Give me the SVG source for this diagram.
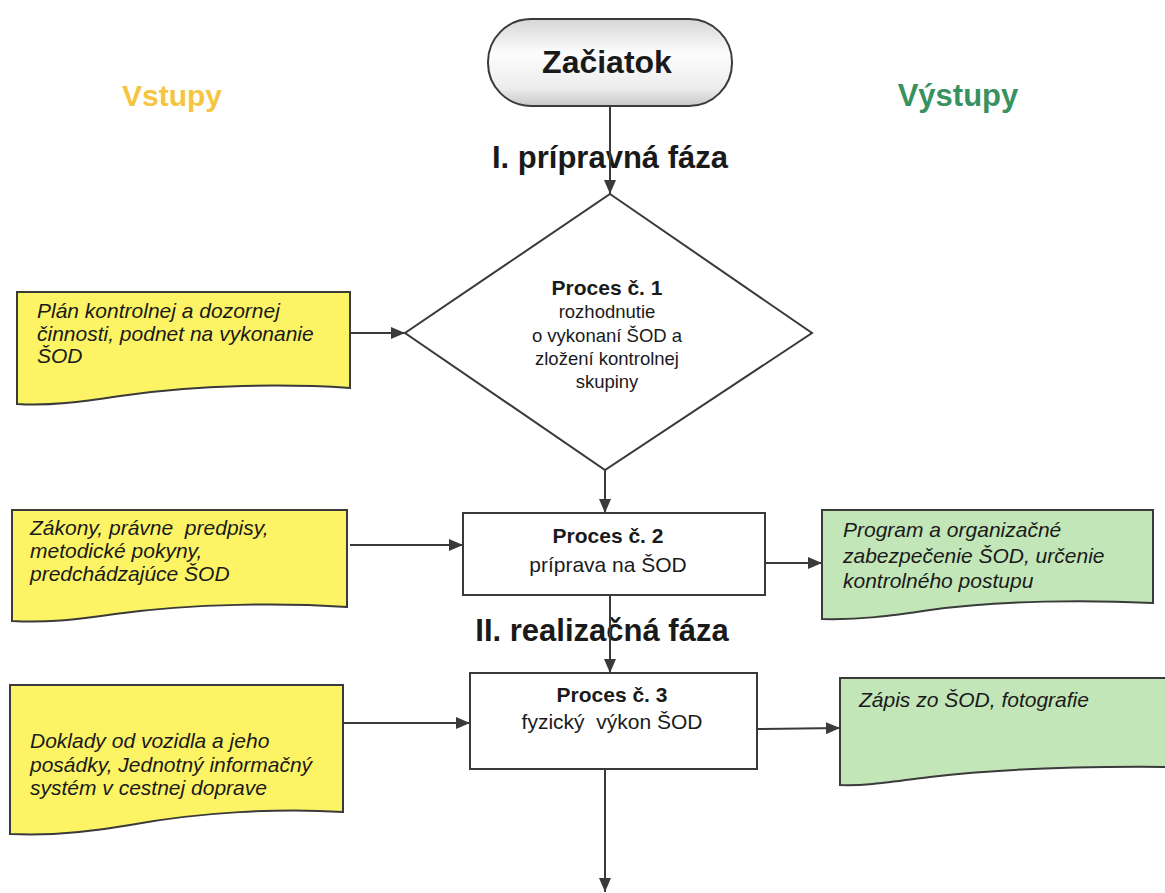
<svg xmlns="http://www.w3.org/2000/svg" width="1165" height="893" viewBox="0 0 1165 893">
<style>
.doc-y{fill:#fdf465;stroke:#3a3a3a;stroke-width:2}
.doc-g{fill:#c2e6b8;stroke:#3a3a3a;stroke-width:2}
.box{fill:#ffffff;stroke:#3a3a3a;stroke-width:2}
.it{font-family:"Liberation Sans",Arial,sans-serif;font-style:italic;font-size:21px;fill:#1a1a1a}
.bh{font-family:"Liberation Sans",Arial,sans-serif;font-weight:bold;font-size:21px;fill:#1a1a1a;text-anchor:middle}
.rt{font-family:"Liberation Sans",Arial,sans-serif;font-size:21px;fill:#1a1a1a;text-anchor:middle}
.dt{font-family:"Liberation Sans",Arial,sans-serif;font-size:18.5px;fill:#1a1a1a;text-anchor:middle}
.ph{font-family:"Liberation Sans",Arial,sans-serif;font-weight:bold;font-size:31px;fill:#1a1a1a;text-anchor:middle}
.conn{stroke:#3a3a3a;stroke-width:2;fill:none;marker-end:url(#arr)}
</style>
<defs>
<marker id="arr" viewBox="0 0 14 12" refX="14" refY="6" markerWidth="14" markerHeight="12" markerUnits="userSpaceOnUse" orient="auto">
<path d="M0,0 L14,6 L0,12 Z" fill="#3a3a3a"/>
</marker>
<linearGradient id="gstart" x1="0" y1="0" x2="0" y2="1">
<stop offset="0" stop-color="#d6d6d6"/>
<stop offset="0.4" stop-color="#fdfdfd"/>
<stop offset="0.8" stop-color="#ececec"/>
<stop offset="1" stop-color="#c8c8c8"/>
</linearGradient>
</defs>
<rect width="1165" height="893" fill="#ffffff"/>

<text x="172" y="106" font-family="Liberation Sans,Arial,sans-serif" font-weight="bold" font-size="30" fill="#f5c540" text-anchor="middle">Vstupy</text>
<text x="958" y="106" font-family="Liberation Sans,Arial,sans-serif" font-weight="bold" font-size="31" fill="#3a9160" text-anchor="middle">Výstupy</text>
<text class="ph" x="610" y="168">I. prípravná fáza</text>
<text class="ph" x="602" y="641">II. realizačná fáza</text>

<g id="start">
<rect x="488" y="19" width="244" height="87" rx="43" ry="43" fill="url(#gstart)" stroke="#3a3a3a" stroke-width="2"/>
<text x="607" y="73" font-family="Liberation Sans,Arial,sans-serif" font-weight="bold" font-size="32" fill="#1a1a1a" text-anchor="middle">Začiatok</text>
</g>

<g id="proces1">
<path d="M610,194 L812,333 L605,470 L405,333 Z" class="box"/>
<text class="bh" x="607" y="295">Proces č. 1</text>
<text class="dt" x="607" y="318">rozhodnutie</text>
<text class="dt" x="607" y="342">o vykonaní ŠOD a</text>
<text class="dt" x="607" y="365">zložení kontrolnej</text>
<text class="dt" x="607" y="388">skupiny</text>
</g>

<g id="vstup1">
<path d="M17,292 H350 V388 C290,384 200,384 120,396 C80,402 50,406 17,404 Z" class="doc-y"/>
<text class="it" x="37" y="318">Plán kontrolnej a dozornej</text>
<text class="it" x="37" y="341">činnosti, podnet na vykonanie</text>
<text class="it" x="37" y="363">ŠOD</text>
</g>

<g id="proces2">
<rect x="463" y="513" width="302" height="82" class="box"/>
<text class="bh" x="608" y="543">Proces č. 2</text>
<text class="rt" x="608" y="572">príprava na ŠOD</text>
</g>

<g id="vstup2">
<path d="M12,510 H347 V607 C285,603 195,603 115,614 C75,620 45,623 12,621 Z" class="doc-y"/>
<text class="it" x="30" y="535" xml:space="preserve">Zákony, právne  predpisy,</text>
<text class="it" x="30" y="558">metodické pokyny,</text>
<text class="it" x="30" y="581">predchádzajúce ŠOD</text>
</g>

<g id="vystup1">
<path d="M822,510 H1153 V603 C1090,600 1000,600 930,610 C890,616 860,620 822,619 Z" class="doc-g"/>
<text class="it" x="843" y="537">Program a organizačné</text>
<text class="it" x="843" y="563">zabezpečenie ŠOD, určenie</text>
<text class="it" x="843" y="588">kontrolného postupu</text>
</g>

<g id="proces3">
<rect x="470" y="673" width="287" height="96" class="box"/>
<text class="bh" x="612" y="702">Proces č. 3</text>
<text class="rt" x="612" y="729" xml:space="preserve">fyzický  výkon ŠOD</text>
</g>

<g id="vstup3">
<path d="M10,685 H343 V812 C280,808 200,812 130,825 C90,832 50,836 10,834 Z" class="doc-y"/>
<text class="it" x="30" y="748">Doklady od vozidla a jeho</text>
<text class="it" x="30" y="772">posádky, Jednotný informačný</text>
<text class="it" x="30" y="795">systém v cestnej doprave</text>
</g>

<g id="vystup2">
<path d="M840,678 H1172 V767 C1080,766 990,770 930,777 C890,782 865,786 840,785 Z" class="doc-g"/>
<text class="it" x="859" y="707">Zápis zo ŠOD, fotografie</text>
</g>

<g id="connectors">
<path class="conn" d="M610,106 V194"/>
<path class="conn" d="M350,333 H405"/>
<path class="conn" d="M605,470 V513"/>
<path class="conn" d="M350,545 H463"/>
<path class="conn" d="M765,563 H822"/>
<path class="conn" d="M610,595 V673"/>
<path class="conn" d="M343,723 H470"/>
<path class="conn" d="M757,729 L840,728"/>
<path class="conn" d="M605,769 V892"/>
</g>
</svg>
